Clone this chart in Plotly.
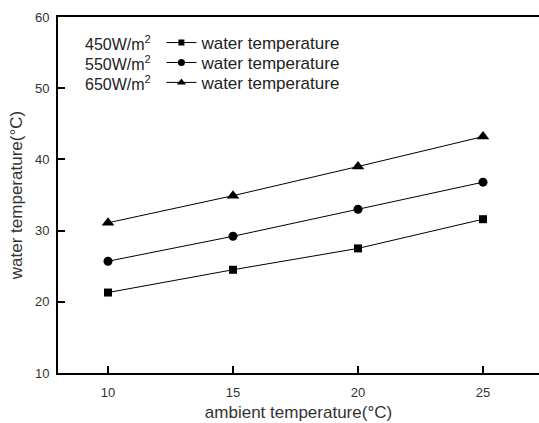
import plotly.graph_objects as go

ambient = [10, 15, 20, 25]
water_450 = [21.3, 24.5, 27.5, 31.6]
water_550 = [25.7, 29.2, 33.0, 36.8]
water_650 = [31.1, 34.9, 39.0, 43.2]
irradiance_labels = ["450W/m<sup>2</sup>", "550W/m<sup>2</sup>", "650W/m<sup>2</sup>"]
series_name = "water temperature"
y_ticks = [10, 20, 30, 40, 50, 60]
x_ticks = [10, 15, 20, 25]

font = "Liberation Sans, Arial, sans-serif"
symbols = ["square", "circle", "triangle-up"]
sizes = [8, 9, 11]
legend_sizes = [6, 7, 8]
legend_ids = ["legend", "legend2", "legend3"]
row_y = [0.927, 0.871, 0.815]

fig = go.Figure()
for ys, sym, sz in zip([water_450, water_550, water_650], symbols, sizes):
    fig.add_trace(go.Scatter(
        x=ambient, y=ys, mode="lines+markers", name=series_name, showlegend=False,
        line=dict(color="black", width=1),
        marker=dict(symbol=sym, size=sz, color="black"),
    ))
for sym, sz, lid in zip(symbols, legend_sizes, legend_ids):
    fig.add_trace(go.Scatter(
        x=[None], y=[None], mode="lines+markers", name=series_name, legend=lid,
        line=dict(color="black", width=1),
        marker=dict(symbol=sym, size=sz, color="black"),
    ))

for lab, yy in zip(irradiance_labels, row_y):
    fig.add_annotation(
        xref="paper", yref="paper", x=0.052, y=yy,
        xanchor="left", yanchor="middle", text=lab, showarrow=False,
        font=dict(family=font, size=16, color="#222"),
    )

legend_common = dict(xanchor="left", yanchor="middle", x=0.215,
                     bgcolor="rgba(0,0,0,0)", borderwidth=0,
                     font=dict(family=font, size=17, color="#222"), itemwidth=30)
fig.update_layout(
    width=539, height=423,
    margin=dict(l=58, r=0, t=17, b=50),
    paper_bgcolor="white", plot_bgcolor="white",
    showlegend=True,
    legend=dict(y=row_y[0], **legend_common),
    legend2=dict(y=row_y[1], **legend_common),
    legend3=dict(y=row_y[2], **legend_common),
    font=dict(family=font, size=13, color="#333"),
)
fig.update_xaxes(
    range=[8, 27.24], tickvals=x_ticks, ticks="inside", ticklen=7, tickwidth=2,
    tickcolor="black", showline=True, linecolor="black", linewidth=2, mirror=True,
    showgrid=False, zeroline=False, ticklabelstandoff=6,
    title=dict(text="ambient temperature(°C)", font=dict(size=17, family=font), standoff=8),
)
fig.update_yaxes(
    range=[10, 60], tickvals=y_ticks, ticks="inside", ticklen=7, tickwidth=2,
    tickcolor="black", showline=True, linecolor="black", linewidth=2,
    showgrid=False, zeroline=False, ticklabelstandoff=4,
    title=dict(text="water temperature(°C)", font=dict(size=17, family=font), standoff=8),
)
fig.write_html("out.html")
